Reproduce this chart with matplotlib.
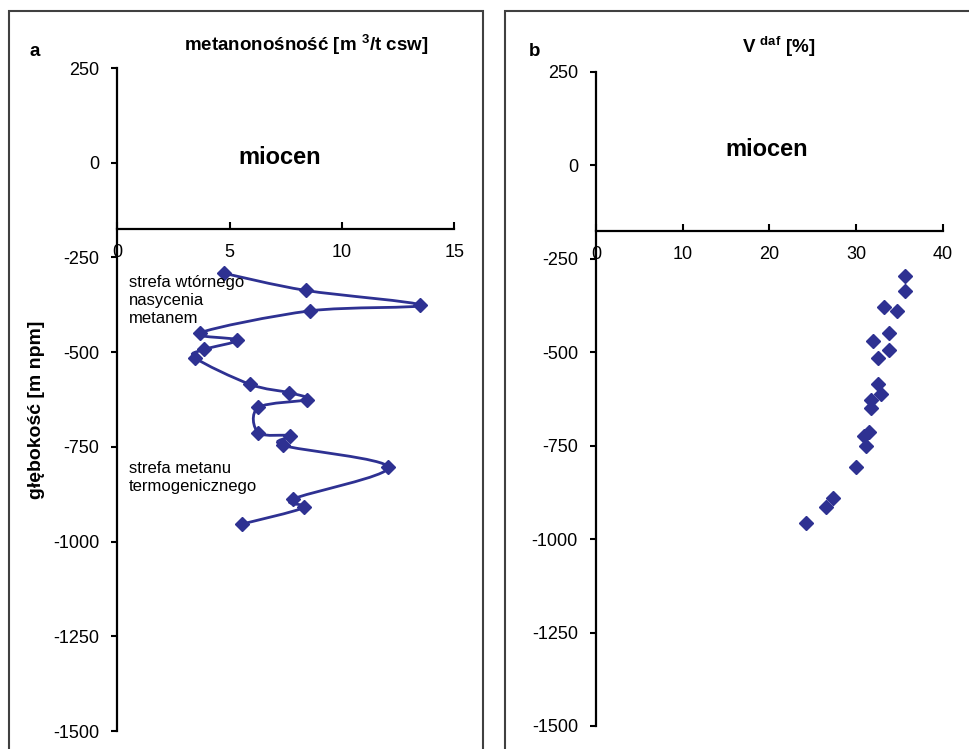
import numpy as np
import matplotlib
matplotlib.use("Agg")
import matplotlib.pyplot as plt
from matplotlib.path import Path
from matplotlib.patches import PathPatch, Rectangle

plt.rcParams['font.family'] = ['Liberation Sans', 'DejaVu Sans']
plt.rcParams['mathtext.fontset'] = 'custom'
plt.rcParams['mathtext.rm'] = 'Liberation Sans'
plt.rcParams['mathtext.bf'] = 'Liberation Sans:bold'
plt.rcParams['axes.unicode_minus'] = False

# panel a: methane content vs depth
metan = [4.76, 8.38, 13.47, 8.58, 3.68, 5.34, 3.87, 3.46, 5.91, 7.65, 8.46,
         6.28, 6.28, 7.69, 7.36, 12.06, 7.81, 8.32, 5.54]
depth_a = [-292, -337, -376, -391, -449, -468, -493, -515, -585, -607, -625,
           -646, -713, -721, -746, -804, -888, -910, -954]

# panel b: volatile matter vs depth
vdaf = [35.65, 35.65, 33.27, 34.7, 33.84, 32.0, 33.84, 32.5, 32.57, 32.88,
        31.73, 31.73, 31.54, 30.96, 31.1, 29.95, 27.38, 26.54, 24.19]
depth_b = [-295, -336, -378, -390, -449, -469, -494, -515, -586, -612,
           -628, -650, -714, -724, -750, -808, -891, -913, -956]

y_ticks = [250, 0, -250, -500, -750, -1000, -1250, -1500]
x_ticks_a = [0, 5, 10, 15]
x_ticks_b = [0, 10, 20, 30, 40]

COLOR = '#2e3192'
W, H = 970, 749


def fx(px):
    return px / W


def fy(py):
    return 1 - py / H


def smooth_path(x, y):
    # excel-like smoothed line (catmull-rom as cubic bezier)
    pts = np.column_stack([x, y]).astype(float)
    n = len(pts)
    verts = [pts[0]]
    codes = [Path.MOVETO]
    for i in range(n - 1):
        p0 = pts[i - 1] if i > 0 else pts[i]
        p1, p2 = pts[i], pts[i + 1]
        p3 = pts[i + 2] if i + 2 < n else pts[i + 1]
        verts += [p1 + (p2 - p0) / 6, p2 - (p3 - p1) / 6, p2]
        codes += [Path.CURVE4] * 3
    return Path(verts, codes)


def style_axes(ax, xmax, xticks):
    ax.set_xlim(0, xmax)
    ax.set_ylim(-1500, 250)
    ax.set_yticks(y_ticks)
    ax.set_xticks(xticks)
    ax.spines['top'].set_visible(False)
    ax.spines['right'].set_visible(False)
    ax.spines['bottom'].set_position(('data', -175))
    for s in ('left', 'bottom'):
        ax.spines[s].set_linewidth(1.6)
    ax.tick_params(axis='x', direction='in', length=5, width=1.5, pad=11, labelsize=13)
    ax.tick_params(axis='y', direction='out', length=4, width=1.5, pad=9, labelsize=13)
    ax.patch.set_alpha(0)


fig = plt.figure(figsize=(9.7, 7.49), dpi=100)

# panel frames
fig.patches.append(Rectangle((fx(9), fy(770)), fx(483 - 9), (770 - 11) / H,
                             transform=fig.transFigure, fill=False, edgecolor='#404040', lw=1.5))
fig.patches.append(Rectangle((fx(505), fy(770)), fx(500), (770 - 11) / H,
                             transform=fig.transFigure, fill=False, edgecolor='#404040', lw=1.5))

ax1 = fig.add_axes([fx(117.3), fy(731), fx(454.3 - 117.3), (731 - 68) / H])
style_axes(ax1, 15, x_ticks_a)
ax1.add_patch(PathPatch(smooth_path(metan, depth_a), fill=False, edgecolor=COLOR, lw=2))
ax1.plot(metan, depth_a, linestyle='none', marker='D', markersize=7.5, color=COLOR)
ax1.text(0.5, -297, 'strefa wtórnego\nnasycenia\nmetanem', fontsize=12, va='top', linespacing=1.25)
ax1.text(0.5, -787, 'strefa metanu\ntermogenicznego', fontsize=12, va='top', linespacing=1.25)

ax2 = fig.add_axes([fx(596), fy(726), fx(942.7 - 596), (726 - 72) / H])
style_axes(ax2, 40, x_ticks_b)
ax2.plot(vdaf, depth_b, linestyle='none', marker='D', markersize=7.5, color=COLOR)

# labels
fig.text(fx(35), fy(52), 'a', fontsize=13.5, fontweight='bold', ha='center', va='center')
fig.text(fx(535), fy(52), 'b', fontsize=13.5, fontweight='bold', ha='center', va='center')
fig.text(fx(306), fy(45), r'metanonośność [m $^{\mathbf{3}}$/t csw]', fontsize=13.5,
         fontweight='bold', ha='center', va='center')
fig.text(fx(779), fy(47), r'V $^{\mathbf{daf}}$ [%]', fontsize=13.5,
         fontweight='bold', ha='center', va='center')
fig.text(fx(280), fy(158), 'miocen', fontsize=17, fontweight='bold', ha='center', va='center')
fig.text(fx(767), fy(150), 'miocen', fontsize=17, fontweight='bold', ha='center', va='center')
fig.text(fx(37), fy(410), 'głębokość [m npm]', fontsize=14, fontweight='bold',
         rotation=90, ha='center', va='center')

fig.savefig('out.png', dpi=100)
